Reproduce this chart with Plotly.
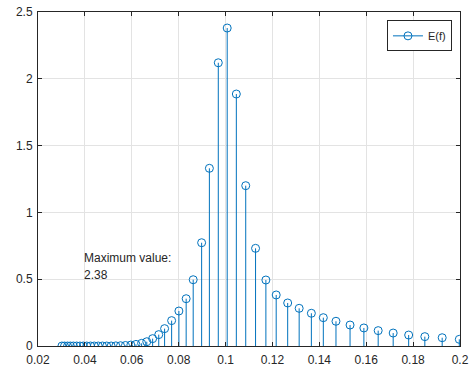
import plotly.graph_objects as go

# Frequencies (Hz)
freq = [0.0302, 0.0313, 0.0326, 0.0338, 0.0351, 0.0365, 0.0379, 0.0393, 0.0408,
        0.0424, 0.0440, 0.0457, 0.0475, 0.0493, 0.0512, 0.0532, 0.0552, 0.0573,
        0.0596, 0.0618, 0.0642, 0.0664, 0.0689, 0.0715, 0.0740, 0.0770, 0.0801,
        0.0832, 0.0862, 0.0898, 0.0931, 0.0969, 0.1007, 0.1046, 0.1086, 0.1128,
        0.1172, 0.1216, 0.1265, 0.1314, 0.1366, 0.1417, 0.1471, 0.1531, 0.1590,
        0.1651, 0.1715, 0.1781, 0.1850, 0.1924, 0.1997]
# Spectral energy E(f)
energy = [0.0, 0.0, 0.0, 0.0, 0.0, 0.0, 0.0, 0.0, 0.0,
          0.0, 0.0, 0.0, 0.0, 0.0, 0.0, 0.001, 0.002, 0.004,
          0.007, 0.012, 0.02, 0.032, 0.055, 0.085, 0.13, 0.19, 0.262,
          0.354, 0.496, 0.773, 1.33, 2.12, 2.38, 1.886, 1.20, 0.731,
          0.494, 0.382, 0.322, 0.282, 0.245, 0.212, 0.185, 0.157, 0.135,
          0.115, 0.097, 0.082, 0.070, 0.062, 0.050]

x_ticks = [0.02, 0.04, 0.06, 0.08, 0.1, 0.12, 0.14, 0.16, 0.18, 0.2]
x_ticktext = ["0.02", "0.04", "0.06", "0.08", "0.1", "0.12", "0.14", "0.16", "0.18", "0.2"]
y_ticks = [0, 0.5, 1, 1.5, 2, 2.5]
y_ticktext = ["0", "0.5", "1", "1.5", "2", "2.5"]
legend_label = "E(f)"
max_label = "Maximum value:"
max_value_text = "2.38"

BLUE = "#0072BD"
DARK = "#262626"
GRID = "#e3e3e3"
FONT = "Liberation Sans, Arial, sans-serif"

stem_x, stem_y = [], []
for f, e in zip(freq, energy):
    stem_x += [f, f, None]
    stem_y += [0, e, None]

fig = go.Figure()
fig.add_trace(go.Scatter(x=stem_x, y=stem_y, mode="lines",
                         line=dict(color=BLUE, width=1), showlegend=False,
                         hoverinfo="skip"))
fig.add_trace(go.Scatter(x=freq, y=energy, mode="markers",
                         marker=dict(symbol="circle-open", size=8, color=BLUE,
                                     line=dict(width=1, color=BLUE)),
                         showlegend=False))
fig.add_trace(go.Scatter(x=[None], y=[None], mode="lines+markers", name=legend_label,
                         line=dict(color=BLUE, width=1),
                         marker=dict(symbol="circle-open", size=8, color=BLUE,
                                     line=dict(width=1, color=BLUE))))

fig.add_annotation(x=0.0396, y=0.656, text=max_label, showarrow=False,
                   xanchor="left", yanchor="middle", xshift=-2,
                   font=dict(family=FONT, size=12, color=DARK))
fig.add_annotation(x=0.0396, y=0.53, text=max_value_text, showarrow=False,
                   xanchor="left", yanchor="middle", xshift=-2,
                   font=dict(family=FONT, size=12, color=DARK))

axis_common = dict(showline=True, linecolor=DARK, linewidth=1, mirror="ticks",
                   ticks="inside", ticklen=4, tickcolor=DARK, showgrid=True,
                   gridcolor=GRID, gridwidth=1, zeroline=False, automargin=False,
                   tickfont=dict(family=FONT, size=12, color=DARK))

fig.update_xaxes(range=[0.02, 0.2], tickvals=x_ticks, ticktext=x_ticktext,
                 ticklabelstandoff=3, **axis_common)
fig.update_yaxes(range=[0, 2.5], tickvals=y_ticks, ticktext=y_ticktext,
                 ticklabelstandoff=2, **axis_common)

fig.update_layout(
    width=469, height=370,
    margin=dict(l=38, r=9, t=12, b=24),
    plot_bgcolor="white", paper_bgcolor="white",
    font=dict(family=FONT, size=12, color=DARK),
    legend=dict(x=0.981, y=0.975, xanchor="right", yanchor="top",
                bgcolor="white", bordercolor=DARK, borderwidth=1,
                font=dict(family=FONT, size=11, color=DARK),
                itemwidth=30, tracegroupgap=0),
)

fig.write_html("out.html")
